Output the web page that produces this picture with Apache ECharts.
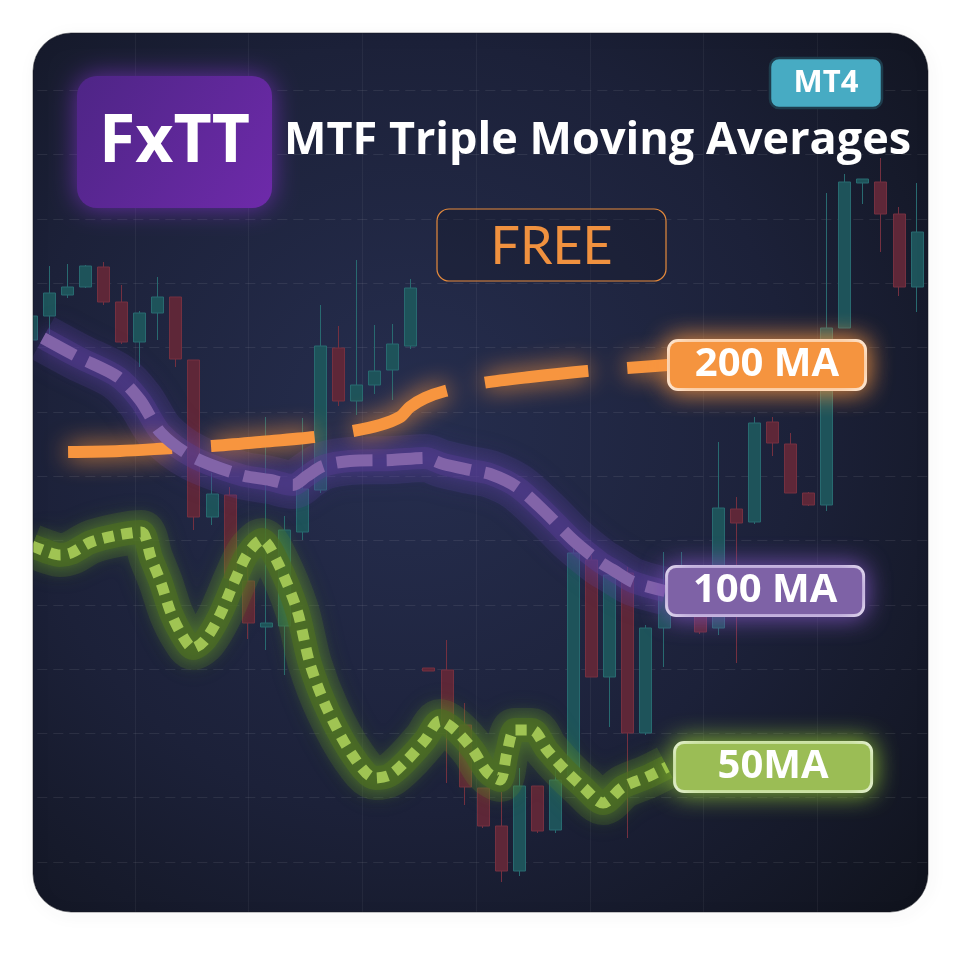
<!DOCTYPE html>
<html><head><meta charset="utf-8">
<script src="https://cdn.jsdelivr.net/npm/echarts@6/dist/echarts.min.js"></script>
<style>html,body{margin:0;padding:0;background:#fff;}#c{width:960px;height:960px;}</style>
</head><body><div id="c"></div>
<script>
// Candles: [open, close, low, high] in price units
const candles = [
  [57.2,59.6,56.8,60.0],[59.6,61.9,57.8,64.6],[61.7,62.5,61.4,64.8],[62.5,64.6,62.4,64.7],
  [64.5,61.0,60.7,65.0],[61.0,57.0,56.8,62.7],[57.0,59.9,54.5,60.1],[59.9,61.5,57.2,63.5],
  [61.5,55.3,54.5,61.5],[55.2,39.5,38.2,55.2],[39.5,41.8,38.7,43.9],[41.7,33.4,32.2,42.5],
  [33.1,28.9,27.3,36.4],[28.5,28.9,26.2,49.5],[28.6,38.2,23.7,39.6],[38.0,42.3,37.2,49.4],
  [42.2,56.6,41.9,60.7],[56.4,51.1,50.6,58.6],[51.1,52.7,49.7,65.2],[52.7,54.1,51.8,58.7],
  [54.2,56.8,51.2,58.8],[56.6,62.4,56.3,63.3],[24.4,24.1,24.1,24.4],[24.2,18.7,12.9,27.2],
  [18.7,12.5,10.7,20.9],[12.4,8.6,8.4,12.4],[8.6,4.1,3.0,12.0],[4.1,12.6,3.6,14.4],
  [12.6,8.1,7.9,12.6],[8.2,13.2,7.9,15.2],[13.3,35.9,12.2,36.9],[35.2,23.5,23.5,35.7],
  [23.5,33.7,18.5,34.5],[33.9,17.9,7.4,34.5],[17.9,28.4,17.7,28.7],[28.4,32.0,24.5,36.0],
  [30.7,33.4,29.7,36.0],[31.2,28.0,27.8,32.2],[28.4,40.4,27.7,47.0],[40.3,38.9,24.9,41.5],
  [39.0,48.9,38.8,49.5],[49.0,46.9,45.6,49.5],[46.8,41.9,41.9,47.9],[41.9,40.7,40.6,42.0],
  [40.7,58.4,40.1,71.9],[58.4,73.0,58.4,73.8],[72.9,73.3,70.8,73.3],[73.0,69.8,66.0,75.4],
  [69.8,62.5,61.6,70.5],[62.5,68.0,60.0,72.9]
];
// Moving averages: x in bar index units, y in price units
const ma200X = [2.04,4.91,7.84,10.0,12.65,15.70,17.80,19.29,20.40,20.95,21.78,22.89,24.99,27.59,30.74,32.95,35.22];
const ma200Y = [46.0,46.1,46.4,46.6,47.0,47.5,48.1,48.7,49.5,50.5,51.4,52.1,52.9,53.5,54.1,54.4,54.7];
const ma100X = [0.65,2.59,4.80,6.02,7.18,8.95,11.60,13.21,14.48,15.25,16.14,17.63,19.96,21.78,22.78,24.27,25.38,26.87,28.42,29.97,31.46,32.18,33.29,35.06];
const ma100Y = [57.4,55.5,53.5,51.2,47.9,45.5,43.7,43.2,42.7,43.6,44.6,45.1,45.2,45.4,44.8,44.2,43.8,42.5,40.0,37.2,35.0,34.2,33.0,32.1];
const ma50X = [0.05,0.93,1.59,2.20,3.31,4.80,6.08,6.63,7.18,7.73,8.34,8.95,9.61,10.44,11.27,11.99,12.77,13.59,14.70,15.42,16.42,17.80,19.02,19.84,20.79,21.78,22.61,23.44,24.44,25.21,25.93,26.32,26.76,27.70,28.53,29.52,30.52,31.63,32.73,34.06,35.17];
const ma50Y = [36.6,36.0,35.7,35.9,37.0,37.7,38.0,35.4,32.9,29.9,27.7,26.4,27.2,29.7,33.2,35.9,37.2,35.1,30.2,24.8,20.1,15.6,13.4,13.7,15.2,17.2,19.1,18.2,16.2,14.0,13.2,16.0,18.2,18.2,16.2,14.2,12.5,10.9,12.5,13.5,14.5];
const labels = ['200 MA','100 MA','50MA'];
const titleText = 'MTF Triple Moving Averages';

const zip = (xs, ys) => xs.map((x, i) => [x, ys[i]]);
const candleData = candles.map((d, i) => [i, d[0], d[1], d[2], d[3]]);

const chart = echarts.init(document.getElementById('c'), null, {renderer: 'canvas'});
const hidden = {axisLine:{show:false}, axisTick:{show:false}, axisLabel:{show:false}};
const FONT = 'Open Sans';

function endLabel(text, bg, glow, dist) {
  return {
    show: true, distance: dist,
    formatter: '{t|' + text + '}',
    backgroundColor: bg, borderColor: '#ffffff', borderWidth: 3, borderRadius: 8,
    padding: [1, 4],
    shadowBlur: 24, shadowColor: glow,
    rich: { t: { width: 186, align: 'center', color: '#fff', fontSize: 40, fontWeight: 'bold', fontFamily: FONT, lineHeight: 44 } }
  };
}

function glow(xs, ys, width, color, blur, blurColor) {
  return { type:'line', xAxisIndex:1, yAxisIndex:1, data:zip(xs, ys), smooth:0.3, showSymbol:false, silent:true, z:3,
    lineStyle:{ width, color, shadowBlur:blur, shadowColor:blurColor, cap:'butt' } };
}

// white frame outside the rounded panel: polygon with a hole (outer CW, inner CCW, joined by a slit)
function framePoints() {
  const L = 33, T = 33, R = 928, B = 912, r = 38, pts = [];
  pts.push([0,0],[960,0],[960,960],[0,960],[0,472],[L,472]);
  const corners = [[L+r, B-r, 180, 90], [R-r, B-r, 90, 0], [R-r, T+r, 0, -90], [L+r, T+r, -90, -180]];
  corners.forEach(([cx, cy, a0, a1]) => {
    for (let s = 0; s <= 12; s++) {
      const a = (a0 + (a1 - a0) * s / 12) * Math.PI / 180;
      pts.push([cx + r * Math.cos(a), cy + r * Math.sin(a)]);
    }
  });
  pts.push([L,472],[0,472]);
  return pts;
}

chart.setOption({
  animation: false,
  backgroundColor: '#ffffff',
  grid: [
    {left: 21.3, right: 29.1, top: 26.1, bottom: 33.7},
    {left: 33, right: 32, top: 33, bottom: 48}
  ],
  xAxis: [
    Object.assign({type:'value', gridIndex:0, min:0, max:8, interval:1,
      splitLine:{show:true, lineStyle:{color:'rgba(255,255,255,0.05)', width:1}}}, hidden),
    Object.assign({type:'value', gridIndex:1, min:0.1, max:49.6, splitLine:{show:false}}, hidden)
  ],
  yAxis: [
    Object.assign({type:'value', gridIndex:0, min:0, max:14, interval:1,
      splitLine:{show:true, lineStyle:{color:'rgba(255,255,255,0.08)', width:1.2, type:[10,6]}}}, hidden),
    Object.assign({type:'value', gridIndex:1, min:0, max:87.9, splitLine:{show:false}}, hidden)
  ],
  graphic: [
    { type:'rect', z:-100, shape:{x:33, y:33, width:895, height:879, r:38},
      style:{ fill: new echarts.graphic.RadialGradient(0.42, 0.45, 0.8, [
        {offset:0, color:'#262e4f'}, {offset:0.55, color:'#1c2139'}, {offset:1, color:'#10131d'}]) } },
    { type:'polygon', z:50, shape:{ points: framePoints() }, style:{ fill:'#ffffff' } },
    { type:'rect', z:51, shape:{x:33, y:33, width:895, height:879, r:38},
      style:{ fill:null, stroke:'rgba(20,22,30,0.5)', lineWidth:1,
        shadowBlur:14, shadowColor:'rgba(0,0,0,0.55)', shadowOffsetX:2, shadowOffsetY:3 } },
    { type:'rect', z:100, shape:{x:77, y:76, width:195, height:132, r:20},
      style:{ fill: new echarts.graphic.LinearGradient(0,0,1,1,[{offset:0,color:'#4e2586'},{offset:1,color:'#6e2aaa'}]),
        shadowBlur:26, shadowColor:'rgba(120,50,190,0.8)' } },
    { type:'text', z:101, x:174.5, y:143,
      style:{ text:'FxTT', fill:'#ffffff', font:'bold 66px "Open Sans"', textAlign:'center', textVerticalAlign:'middle' } },
    { type:'text', z:101, x:284, y:141,
      style:{ text:titleText, fill:'#ffffff', font:'bold 45px "Open Sans"', textAlign:'left', textVerticalAlign:'middle',
        shadowBlur:4, shadowColor:'rgba(0,0,0,0.5)' } },
    { type:'rect', z:100, shape:{x:770, y:58, width:112, height:50, r:9},
      style:{ fill:'#47abc3', stroke:'#1e3c4c', lineWidth:2.5 } },
    { type:'text', z:101, x:826, y:83,
      style:{ text:'MT4', fill:'#ffffff', font:'bold 31px "Open Sans"', textAlign:'center', textVerticalAlign:'middle' } },
    { type:'rect', z:100, shape:{x:437, y:209, width:229, height:72, r:12},
      style:{ fill:'rgba(22,26,44,0.35)', stroke:'#e58a3c', lineWidth:1.2 } },
    { type:'text', z:101, x:551.5, y:247,
      style:{ text:'FREE', fill:'#f0913f', font:'52px Lato', textAlign:'center', textVerticalAlign:'middle' } }
  ],
  series: [
    { type:'candlestick', xAxisIndex:1, yAxisIndex:1, data:candleData,
      encode:{x:0, y:[1,2,3,4]}, barWidth:12.5, z:1,
      itemStyle:{ color:'#1e535a', color0:'#5e2738', borderColor:'#286a70', borderColor0:'#743040', borderWidth:1 } },
    // glow bands (wide haze + inner band)
    glow(ma100X, ma100Y, 48, 'rgba(90,65,160,0.2)', 20, 'rgba(90,65,160,0.6)'),
    glow(ma100X, ma100Y, 22, 'rgba(84,60,145,0.45)', 16, 'rgba(100,70,175,0.8)'),
    glow(ma50X, ma50Y, 44, 'rgba(90,130,35,0.22)', 20, 'rgba(100,150,40,0.6)'),
    glow(ma50X, ma50Y, 24, 'rgba(76,108,34,0.7)', 16, 'rgba(100,150,40,0.8)'),
    // main lines
    { name:labels[0], type:'line', xAxisIndex:1, yAxisIndex:1, data:zip(ma200X, ma200Y), smooth:0.3, showSymbol:false, z:4,
      lineStyle:{ width:12, color:'#f7953f', type:[104,39], shadowBlur:24, shadowColor:'rgba(247,149,63,1)' },
      endLabel: endLabel(labels[0], '#f5943f', 'rgba(247,149,63,1)', 2) },
    { name:labels[1], type:'line', xAxisIndex:1, yAxisIndex:1, data:zip(ma100X, ma100Y), smooth:0.3, showSymbol:false, z:5,
      lineStyle:{ width:12, color:'#8264a8', type:[36,14] },
      endLabel: endLabel(labels[1], '#7e62a6', 'rgba(120,80,180,1)', 3) },
    { name:labels[2], type:'line', xAxisIndex:1, yAxisIndex:1, data:zip(ma50X, ma50Y), smooth:0.3, showSymbol:false, z:5,
      lineStyle:{ width:11, color:'#a0c453', type:[11,8] },
      endLabel: endLabel(labels[2], '#9bbd55', 'rgba(140,190,50,1)', 9) }
  ]
});
</script></body></html>
